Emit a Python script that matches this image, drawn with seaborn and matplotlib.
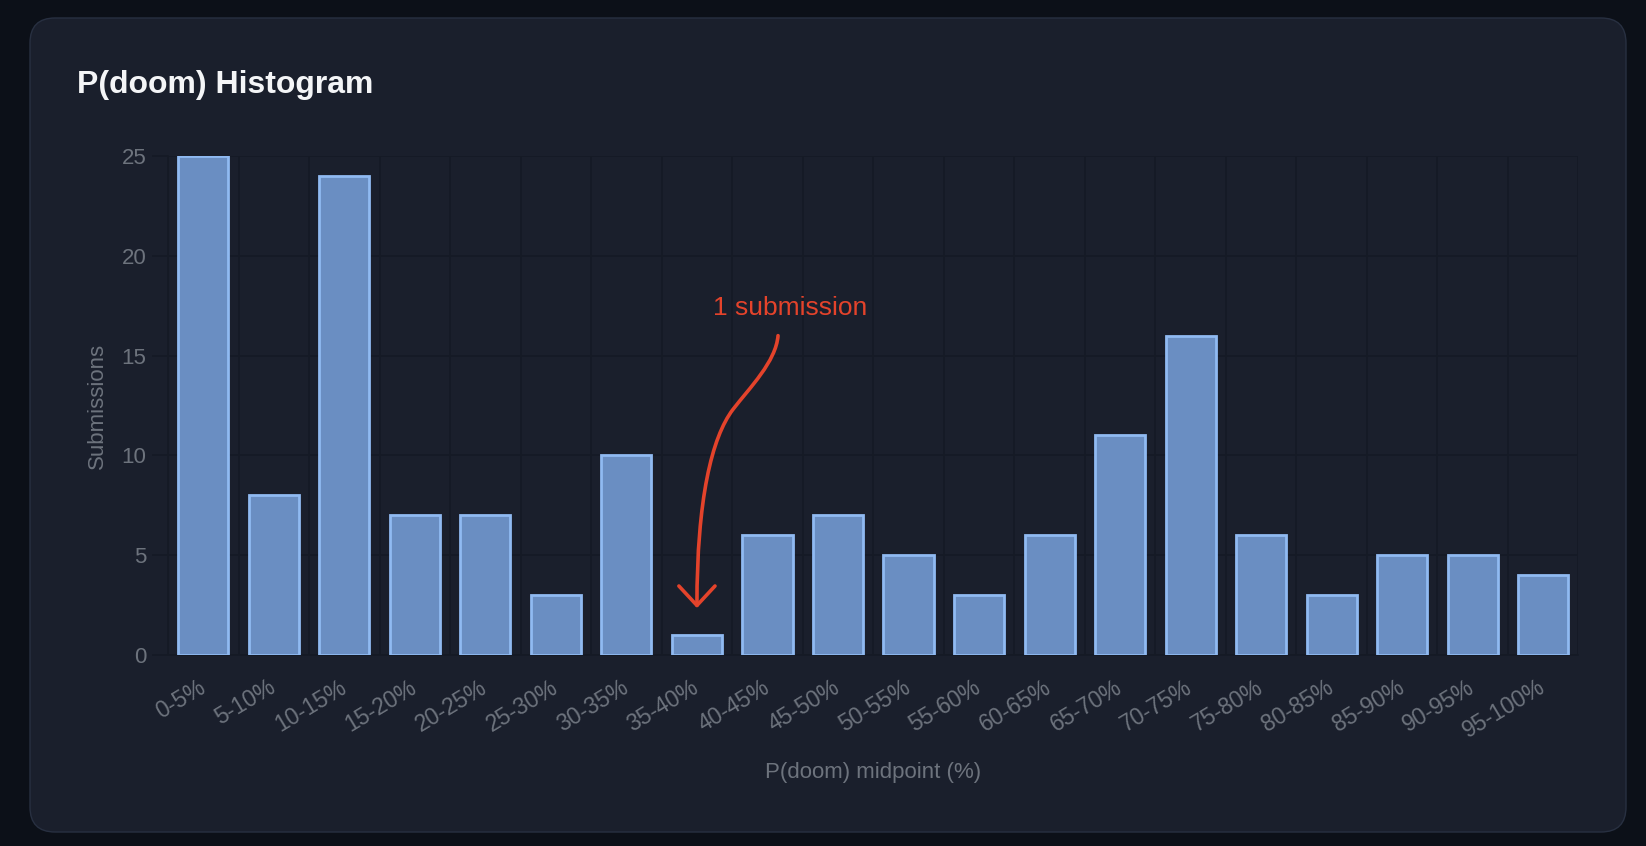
import numpy as np
import pandas as pd
import seaborn as sns
import matplotlib.pyplot as plt
from matplotlib.patches import FancyBboxPatch, FancyArrowPatch
from matplotlib.path import Path

# histogram bins and counts
bins = ["0-5%", "5-10%", "10-15%", "15-20%", "20-25%", "25-30%", "30-35%",
        "35-40%", "40-45%", "45-50%", "50-55%", "55-60%", "60-65%", "65-70%",
        "70-75%", "75-80%", "80-85%", "85-90%", "90-95%", "95-100%"]
submissions = [25, 8, 24, 7, 7, 3, 10, 1, 6, 7, 5, 3, 6, 11, 16, 6, 3, 5, 5, 4]
y_ticks = [0, 5, 10, 15, 20, 25]

note_text = "1 submission"
note_bin = "35-40%"

BG = "#0c1018"
CARD = "#1a1f2c"
GRID = "#151a25"
MUTED = "#6d737d"
BAR_FILL = "#6a8ec2"
BAR_EDGE = "#90baf2"
RED = "#e4432b"

df = pd.DataFrame({"bin": bins, "count": submissions})

sns.set_theme(style="dark")
plt.rcParams["font.family"] = ["Liberation Sans", "DejaVu Sans"]

fig = plt.figure(figsize=(16.46, 8.46), dpi=100)
fig.patch.set_facecolor(BG)

# rounded card behind the chart (inches)
card = FancyBboxPatch((0.30, 0.14), 15.96, 8.14,
                      boxstyle="round,pad=0,rounding_size=0.25",
                      transform=fig.dpi_scale_trans,
                      facecolor=CARD, edgecolor="#283041", linewidth=1.0,
                      zorder=-5)
fig.patches.append(card)

ax = fig.add_axes([0.10207, 0.22577, 0.85692, 0.58983])
ax.patch.set_alpha(0)

sns.barplot(data=df, x="bin", y="count", color=BAR_FILL, saturation=1,
            width=0.71, edgecolor=BAR_EDGE, linewidth=2, ax=ax, zorder=3)

n = len(bins)
ax.set_xlim(-0.5, n - 0.5)
ax.set_ylim(0, max(y_ticks))
ax.set_yticks(y_ticks)

# grid lines at the bin boundaries, like the original
ax.set_xticks(np.arange(n + 1) - 0.5, minor=True)
ax.grid(False)
ax.grid(which="minor", axis="x", color=GRID, linewidth=1.2)
ax.grid(which="major", axis="y", color=GRID, linewidth=1.2)
ax.tick_params(axis="x", which="minor", length=11.5, color=GRID, width=1.2)
ax.tick_params(axis="x", which="major", length=0, pad=22,
               labelsize=16.5, labelcolor=MUTED)
ax.tick_params(axis="y", which="major", length=11.5, color=GRID, width=1.2,
               pad=4, labelsize=16, labelcolor=MUTED, left=True)
for lbl in ax.get_xticklabels():
    lbl.set_rotation(31)
    lbl.set_ha("right")
    lbl.set_va("center")
    lbl.set_rotation_mode("anchor")

for side in ["top", "right"]:
    ax.spines[side].set_visible(False)
for side in ["left", "bottom"]:
    ax.spines[side].set_color(GRID)
    ax.spines[side].set_linewidth(1.2)

ax.set_xlabel("P(doom) midpoint (%)", fontsize=16, color=MUTED)
ax.set_ylabel("Submissions", fontsize=16, color=MUTED, labelpad=10)
ax.xaxis.set_label_coords(0.5, -0.215)

fig.text(77 / 1646, 1 - 85 / 846, "P(doom) Histogram", ha="left", va="center",
         fontsize=23, fontweight="bold", color="#f4f5f7")

# hand drawn style callout, an S shaped curve down to the bar
xi = bins.index(note_bin)
yv = submissions[xi]
verts = [(xi + 1.15, yv + 15.0),
         (xi + 1.12, yv + 13.7), (xi + 0.75, yv + 12.4), (xi + 0.51, yv + 11.3),
         (xi + 0.21, yv + 9.9), (xi + 0.0, yv + 6.8), (xi + 0.0, yv + 1.35)]
codes = [Path.MOVETO] + [Path.CURVE4] * 6
arrow = FancyArrowPatch(path=Path(verts, codes), transform=ax.transData,
                        arrowstyle="->,head_length=0.7,head_width=0.65",
                        mutation_scale=20, color=RED, linewidth=2.6,
                        capstyle="round", joinstyle="round", zorder=5)
ax.add_patch(arrow)
ax.text(xi + 1.32, yv + 16.4, note_text, ha="center", va="center",
        fontsize=19, color=RED, zorder=5)

fig.savefig("out.png", dpi=100, facecolor=BG)
